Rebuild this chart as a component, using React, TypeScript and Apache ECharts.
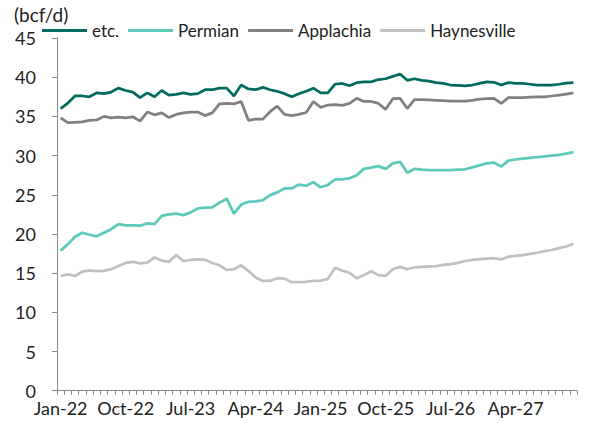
import React, { useEffect, useRef } from "react";
import * as echarts from "echarts";

const MONTHS = ["Jan","Feb","Mar","Apr","May","Jun","Jul","Aug","Sep","Oct","Nov","Dec"];
const YEARS = ["22","23","24","25","26","27"];
const categories: string[] = [];
for (const y of YEARS) for (const m of MONTHS) categories.push(`${m}-${y}`);

const etcValues = [
  36.0, 36.7, 37.6, 37.6, 37.5, 38.0, 37.9, 38.1, 38.6, 38.3, 38.1, 37.4,
  38.0, 37.5, 38.3, 37.7, 37.8, 38.0, 37.8, 37.9, 38.4, 38.4, 38.6, 38.6,
  37.6, 39.0, 38.5, 38.4, 38.7, 38.4, 38.2, 37.9, 37.5, 37.9, 38.2, 38.6,
  38.0, 38.0, 39.1, 39.2, 38.9, 39.3, 39.4, 39.4, 39.7, 39.8, 40.1, 40.4,
  39.6, 39.8, 39.6, 39.5, 39.3, 39.2, 39.0, 38.95, 38.9, 39.0, 39.2, 39.4,
  39.35, 39.0, 39.3, 39.2, 39.2, 39.1, 39.0, 39.0, 39.0, 39.1, 39.25, 39.3,
];
const permianValues = [
  17.86, 18.7, 19.65, 20.15, 19.9, 19.7, 20.15, 20.6, 21.25, 21.1, 21.1, 21.05,
  21.35, 21.25, 22.3, 22.5, 22.6, 22.4, 22.75, 23.25, 23.35, 23.4, 24.0, 24.5,
  22.6, 23.75, 24.1, 24.15, 24.3, 24.95, 25.3, 25.8, 25.8, 26.3, 26.15, 26.6,
  25.95, 26.25, 26.95, 26.95, 27.1, 27.5, 28.3, 28.45, 28.65, 28.3, 29.0, 29.2,
  27.8, 28.3, 28.2, 28.15, 28.15, 28.15, 28.15, 28.2, 28.25, 28.5, 28.75, 29.0,
  29.1, 28.6, 29.35, 29.5, 29.6, 29.7, 29.8, 29.9, 30.0, 30.1, 30.25, 30.45,
];
const applachiaValues = [
  34.8, 34.2, 34.25, 34.3, 34.5, 34.55, 35.0, 34.8, 34.9, 34.8, 34.95, 34.4,
  35.55, 35.2, 35.45, 34.85, 35.25, 35.45, 35.55, 35.55, 35.1, 35.45, 36.6, 36.65,
  36.6, 36.9, 34.5, 34.65, 34.65, 35.6, 36.3, 35.25, 35.1, 35.25, 35.5, 36.9,
  36.15, 36.45, 36.5, 36.4, 36.65, 37.3, 36.9, 36.9, 36.65, 35.9, 37.25, 37.3,
  36.0, 37.15, 37.15, 37.1, 37.05, 37.0, 36.95, 36.95, 36.95, 37.05, 37.2, 37.25,
  37.3, 36.65, 37.4, 37.4, 37.4, 37.45, 37.5, 37.5, 37.6, 37.7, 37.85, 38.0,
];
const haynesvilleValues = [
  14.63, 14.85, 14.63, 15.2, 15.35, 15.25, 15.3, 15.5, 15.9, 16.3, 16.45, 16.25,
  16.35, 17.0, 16.6, 16.45, 17.3, 16.55, 16.7, 16.75, 16.7, 16.3, 16.0, 15.4,
  15.5, 16.0, 15.3, 14.45, 14.0, 14.0, 14.35, 14.3, 13.85, 13.85, 13.9, 14.0,
  14.05, 14.25, 15.7, 15.3, 15.05, 14.35, 14.75, 15.25, 14.75, 14.65, 15.5, 15.8,
  15.5, 15.75, 15.8, 15.85, 15.9, 16.05, 16.15, 16.3, 16.55, 16.7, 16.8, 16.85,
  16.9, 16.75, 17.1, 17.2, 17.3, 17.45, 17.6, 17.8, 17.95, 18.2, 18.4, 18.75,
];

const seriesNames = ["etc.", "Permian", "Applachia", "Haynesville"];
const seriesColors = ["#006B5E", "#5CC9BA", "#808080", "#C0C0C0"];
const seriesData = [etcValues, permianValues, applachiaValues, haynesvilleValues];

const unitLabel = "(bcf/d)";
const FONT = "Lato, 'Noto Sans', sans-serif";

export default function App() {
  const ref = useRef<HTMLDivElement>(null);
  useEffect(() => {
    if (!ref.current) return;
    const chart = echarts.init(ref.current, undefined, { renderer: "svg" });
    chart.setOption({
      animation: false,
      textStyle: { fontFamily: FONT },
      grid: { left: 57, right: 23, top: 38, bottom: 36.3, containLabel: false },
      legend: {
        left: 42,
        top: 22,
        padding: 0,
        icon: "rect",
        itemWidth: 45,
        itemHeight: 3,
        itemGap: 9,
        textStyle: { fontSize: 17, color: "#222", fontFamily: FONT },
        data: seriesNames,
      },
      graphic: [
        {
          type: "text",
          left: 14,
          top: 5,
          style: { text: unitLabel, fontSize: 19, fill: "#222", fontFamily: FONT },
        },
      ],
      xAxis: {
        type: "category",
        data: categories,
        boundaryGap: true,
        axisLine: { lineStyle: { color: "#888", width: 1 } },
        axisTick: { show: true, interval: 0, length: 4, lineStyle: { color: "#888" } },
        axisLabel: { interval: 8, fontSize: 18, color: "#222", margin: 8, fontFamily: FONT },
        splitLine: { show: false },
      },
      yAxis: {
        type: "value",
        min: 0,
        max: 45,
        interval: 5,
        axisLine: { show: true, lineStyle: { color: "#888", width: 1 } },
        axisTick: { show: true, length: 5, lineStyle: { color: "#888" } },
        axisLabel: { fontSize: 18, color: "#222", margin: 21, fontFamily: FONT },
        splitLine: { show: false },
      },
      series: seriesNames.map((name, i) => ({
        name,
        type: "line",
        data: seriesData[i],
        symbol: "none",
        color: seriesColors[i],
        lineStyle: { width: 2.75, color: seriesColors[i] },
        z: 10 - i,
      })),
    });
    return () => chart.dispose();
  }, []);
  return <div ref={ref} style={{ width: 600, height: 427, position: "absolute", left: 0, top: 0 }} />;
}
